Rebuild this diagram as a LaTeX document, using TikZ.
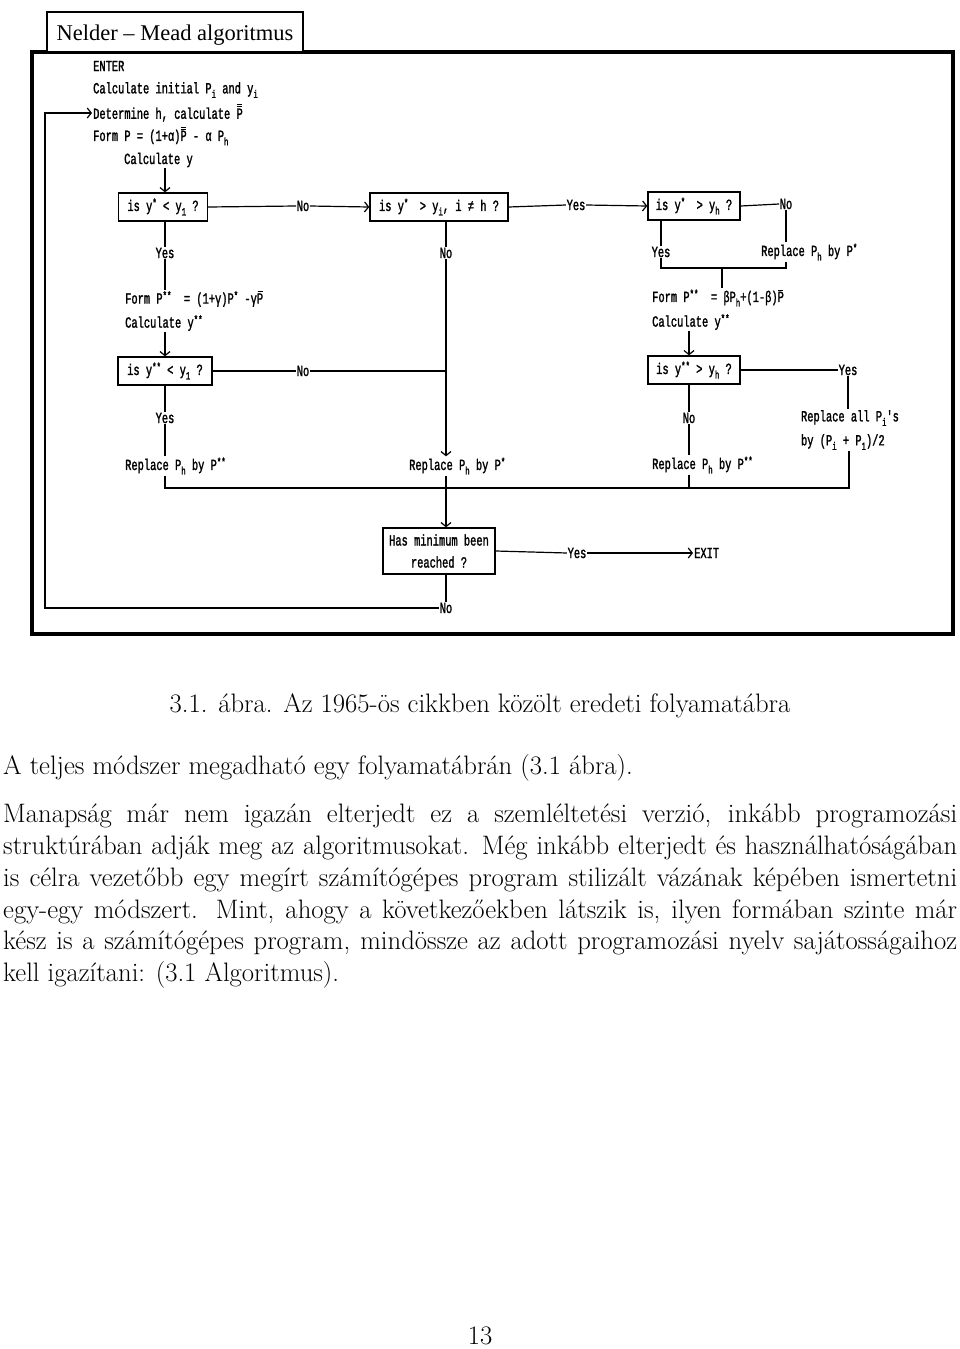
\documentclass[tikz,border=0pt]{standalone}
\usepackage{fontspec}
\usetikzlibrary{arrows.meta}
\newfontfamily\tw[FakeStretch=0.67,FakeBold=1.5]{Liberation Mono}
\newfontfamily\ttl{Liberation Serif}
\newcommand\dnx[1]{\raisebox{-4.5pt}{\fontsize{11}{11}\selectfont #1}}
\newcommand\spx[1]{\raisebox{4.5pt}{\fontsize{11}{11}\selectfont #1}}
\newcommand\pbar{\rlap{\hspace{0.8pt}\rule[11.5pt]{5pt}{0.8pt}}P}
\newcommand\pbb{\rlap{\hspace{0.8pt}\rule[11.5pt]{5pt}{0.8pt}}\rlap{\hspace{0.8pt}\rule[13.5pt]{5pt}{0.8pt}}P}
\newcommand\bodyfont{\fontsize{26.7}{31.6}\selectfont}
\newcommand\jline[1]{\makebox[954pt][s]{#1}}
\begin{document}
\begin{tikzpicture}[x=1pt,y=-1pt,
  tx/.style={font={\tw\fontsize{15.5}{17}\selectfont}, inner sep=1pt},
  lbl/.style={tx, inner sep=0.5pt},
  qbox/.style={tx, draw, line width=1.4pt, inner xsep=4pt, minimum height=28pt},
  ln/.style={line width=1.2pt},
  ar/.style={ln, -{Straight Barb[length=4pt,width=10pt]}},
  body/.style={font=\bodyfont, inner sep=0pt}]
\useasboundingbox (0,0) rectangle (960,1349);
% frame and title
\draw[line width=3.5pt] (32,52) rectangle (953,634);
\draw[line width=1.6pt, fill=white] (47,12) rectangle (303,52);
\node[font={\ttl\fontsize{22.5}{24}\selectfont}] (title) at (175,35) {Nelder – Mead algoritmus};
% top text block
\node[tx,anchor=west] (enter) at (92,66) {ENTER};
\node[tx,anchor=west] (init) at (92,90) {Calculate initial P\dnx{i} and y\dnx{i}};
\node[tx,anchor=west] (det) at (92,113) {Determine h, calculate \pbb};
\node[tx,anchor=west] (form) at (92,136) {Form P = (1+α)\pbb\ - α P\dnx{h}};
\node[tx,anchor=west] (caly) at (123,160) {Calculate y};
% decision boxes
\node[qbox, minimum width=89pt] (b1) at (163,207) {is y\spx{*} < y\dnx{1} ?};
\node[qbox, minimum width=138pt] (b2) at (439,207) {is y\spx{*}\,\, > y\dnx{i}, i ≠ h ?};
\node[qbox, minimum width=92pt] (b3) at (694,206) {is y\spx{*}\,\, > y\dnx{h} ?};
\node[qbox, minimum width=94pt] (b5) at (165,371) {is y\spx{**} < y\dnx{1} ?};
\node[qbox, minimum width=92pt] (b4) at (694,370) {is y\spx{**} > y\dnx{h} ?};
\node[qbox, minimum width=112pt, minimum height=46pt, align=center] (b6) at (439,551) {Has minimum been\\[5pt]reached ?};
% labels
\node[lbl] (no1) at (303,206) {No};
\node[lbl] (yes2) at (576,205) {Yes};
\node[lbl] (no3) at (786,204) {No};
\node[tx,anchor=west] (rep3) at (760,252) {Replace P\dnx{h} by P\spx{*}};
\node[lbl] (yes3) at (661,252) {Yes};
\node[lbl] (yes1) at (165,253) {Yes};
\node[lbl] (no2) at (446,253) {No};
\node[tx,anchor=west] (formL) at (124,299) {Form P\spx{**}\ \ = (1+γ)P\spx{*} -γ\pbar};
\node[tx,anchor=west] (calcL) at (124,323) {Calculate y\spx{**}};
\node[tx,anchor=west] (formR) at (651,298) {Form P\spx{**}\ \ = βP\dnx{h}+(1-β)\pbar};
\node[tx,anchor=west] (calcR) at (651,322) {Calculate y\spx{**}};
\node[lbl] (no5) at (303,371) {No};
\node[lbl] (yes4) at (848,370) {Yes};
\node[tx,align=left] (repall) at (850,430) {Replace all P\dnx{i}'s\\[7pt]by (P\dnx{i} + P\dnx{1})/2};
\node[lbl] (yes5) at (165,418) {Yes};
\node[lbl] (no4) at (689,418) {No};
\node[tx,anchor=west] (repL) at (124,466) {Replace P\dnx{h} by P\spx{**}};
\node[tx,anchor=west] (repM) at (408,466) {Replace P\dnx{h} by P\spx{*}};
\node[tx,anchor=west] (repR) at (651,465) {Replace P\dnx{h} by P\spx{**}};
\node[lbl] (yes6) at (577,553) {Yes};
\node[tx,anchor=west] (exit) at (693,553) {EXIT};
\node[lbl] (no6) at (446,608) {No};
% coordinates
\coordinate (brL) at (661,268);
\coordinate (brR) at (786,268);
\coordinate (brM) at (722,268);
\coordinate (busL) at (165,488);
\coordinate (busM) at (446,488);
\coordinate (busR) at (849,488);
\coordinate (loop) at (45,608);
% connectors: left column
\draw[ar] (yes1 |- caly.south) -- (yes1 |- b1.north);
\draw[ln] (yes1 |- b1.south) -- (yes1.north);
\draw[ln] (yes1.south) -- (yes1 |- formL.north);
\draw[ar] (yes1 |- calcL.south) -- (yes1 |- b5.north);
\draw[ln] (b5.south) -- (yes5.north);
\draw[ln] (yes5.south) -- (yes5 |- repL.north);
\draw[ln] (yes5 |- repL.south) -- (busL) -- (busR) -- (busR |- repall.south);
% top row
\draw[ln] (b1.east) -- (no1.west);
\draw[ar] (no1.east) -- (b2.west);
\draw[ln] (b2.east) -- (yes2.west);
\draw[ar] (yes2.east) -- (b3.west);
\draw[ln] (b3.east) -- (no3.west);
\draw[ln] (no3.south) -- (no3 |- rep3.north);
% right column
\draw[ln] (yes3 |- b3.south) -- (yes3.north);
\draw[ln] (yes3.south) -- (brL) -- (brR) -- (no3 |- rep3.south);
\draw[ln] (brM) -- (brM |- formR.north);
\draw[ar] (no4 |- calcR.south) -- (no4 |- b4.north);
\draw[ln] (no4 |- b4.south) -- (no4.north);
\draw[ln] (no4.south) -- (no4 |- repR.north);
\draw[ln] (no4 |- repR.south) -- (no4 |- busR);
\draw[ln] (b4.east) -- (yes4.west);
\draw[ln] (yes4.south) -- (yes4 |- repall.north);
% middle column
\draw[ln] (no2 |- b2.south) -- (no2.north);
\draw[ar] (no2.south) -- (no2 |- repM.north);
\draw[ln] (b5.east) -- (no5.west);
\draw[ln] (no5.east) -- (no5.east -| no2);
\draw[ln] (no2 |- repM.south) -- (busM);
\draw[ar] (busM) -- (no2 |- b6.north);
\draw[ln] (b6.east) -- (yes6.west);
\draw[ar] (yes6.east) -- (exit.west);
\draw[ln] (no2 |- b6.south) -- (no6.north);
\draw[ar] (no6.west) -- (loop) |- (det.west);
% text below
\node[body] (cap) at (480,706) {3.1. ábra. Az 1965-ös cikkben közölt eredeti folyamatábra};
\node[body,anchor=mid west] (p0) at (3,772) {A teljes módszer megadható egy folyamatábrán (3.1 ábra).};
\node[body,anchor=mid west] (l1) at (3,820) {\jline{Manapság már nem igazán elterjedt ez a szemléltetési verzió, inkább programozási}};
\node[body,anchor=mid west] (l2) at (3,852) {\jline{struktúrában adják meg az algoritmusokat. Még inkább elterjedt és használhatóságában}};
\node[body,anchor=mid west] (l3) at (3,884) {\jline{is célra vezetőbb egy megírt számítógépes program stilizált vázának képében ismertetni}};
\node[body,anchor=mid west] (l4) at (3,916) {\jline{egy-egy módszert. Mint, ahogy a következőekben látszik is, ilyen formában szinte már}};
\node[body,anchor=mid west] (l5) at (3,947) {\jline{kész is a számítógépes program, mindössze az adott programozási nyelv sajátosságaihoz}};
\node[body,anchor=mid west] (l6) at (3,979) {kell igazítani: (3.1 Algoritmus).};
\node[body] (pg) at (480,1336) {13};
\end{tikzpicture}
\end{document}
